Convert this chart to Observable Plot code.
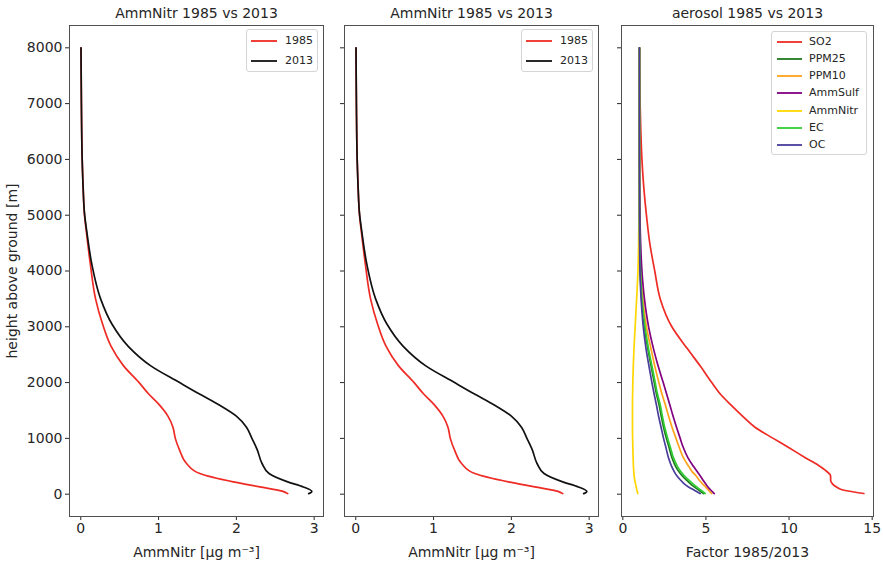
<!DOCTYPE html>
<html><head><meta charset="utf-8">
<script src="https://cdn.jsdelivr.net/npm/d3@7"></script>
<script src="https://cdn.jsdelivr.net/npm/@observablehq/plot@0.6"></script>
<style>
body{margin:0;background:#fff;font-family:"DejaVu Sans",sans-serif;}
#wrap{position:relative;width:883px;height:562px;overflow:hidden;}
#wrap svg.pl{position:absolute;top:0;}
.legend{position:absolute;border:1px solid #d4d4d4;border-radius:3px;background:rgba(255,255,255,0.8);font-size:11px;color:#262626;box-sizing:border-box;}
.legend .row{position:absolute;left:0;height:16px;line-height:16px;white-space:nowrap;}
.legend .row svg{position:absolute;top:0;}
.legend .row span{position:absolute;top:0;}
</style></head><body><div id="wrap"></div>
<script>
// ---- panel 1 & 2: AmmNitr profiles ----
const heights = [10, 50, 130, 220, 370, 550, 790, 1000, 1200, 1400, 1600, 1800, 2000, 2300, 2650, 3050, 3500, 4100, 4700, 5000, 5500, 6000, 7000, 8000];
const amm1985 = [2.66, 2.60, 2.30, 1.96, 1.53, 1.36, 1.27, 1.215, 1.185, 1.12, 1.01, 0.87, 0.75, 0.55, 0.39, 0.28, 0.19, 0.125, 0.072, 0.048, 0.03, 0.018, 0.008, 0.003];
const amm2013 = [2.93, 2.97, 2.86, 2.66, 2.42, 2.33, 2.27, 2.20, 2.13, 2.00, 1.78, 1.52, 1.27, 0.90, 0.61, 0.40, 0.255, 0.145, 0.078, 0.05, 0.03, 0.018, 0.008, 0.003];
const years = ["1985", "2013"];
const yearColors = ["#ee2b24", "#111111"];

// ---- panel 3: factor 1985/2013 ----
const fHeights = [12, 70, 130, 190, 250, 330, 400, 490, 650, 850, 1000, 1200, 1400, 1600, 1800, 2000, 2300, 2600, 3000, 3500, 4000, 4500, 5000, 5500, 6000, 7000, 8000];
const so2 = [14.5, 13.3, 12.85, 12.6, 12.5, 12.5, 12.3, 11.9, 11.0, 9.9, 9.05, 7.95, 7.2, 6.5, 5.85, 5.35, 4.65, 3.9, 2.95, 2.25, 1.92, 1.62, 1.42, 1.26, 1.15, 1.04, 1.0];
const ppm25 = [4.85, 4.58, 4.3, 4.05, 3.83, 3.57, 3.38, 3.19, 2.96, 2.77, 2.62, 2.45, 2.31, 2.18, 2.02, 1.89, 1.7, 1.51, 1.3, 1.13, 1.05, 1.02, 1.0, 1.0, 1.0, 1.0, 1.0];
const ppm10 = [5.35, 5.15, 4.98, 4.78, 4.6, 4.4, 4.18, 3.98, 3.65, 3.38, 3.2, 2.96, 2.75, 2.56, 2.35, 2.17, 1.92, 1.7, 1.42, 1.2, 1.08, 1.03, 1.01, 1.0, 1.0, 1.0, 1.0];
const ammSulf = [5.5, 5.3, 5.12, 4.97, 4.83, 4.65, 4.48, 4.27, 3.92, 3.62, 3.45, 3.23, 3.02, 2.83, 2.63, 2.43, 2.12, 1.85, 1.55, 1.3, 1.15, 1.07, 1.03, 1.01, 1.0, 1.0, 1.0];
const ammNitr = [0.9, 0.85, 0.8, 0.76, 0.72, 0.68, 0.66, 0.64, 0.62, 0.6, 0.59, 0.58, 0.58, 0.58, 0.59, 0.6, 0.63, 0.67, 0.74, 0.83, 0.91, 0.95, 0.97, 0.99, 1.0, 1.0, 1.0];
const ec = [4.95, 4.7, 4.45, 4.2, 3.98, 3.7, 3.5, 3.3, 3.05, 2.85, 2.7, 2.52, 2.38, 2.25, 2.08, 1.95, 1.75, 1.55, 1.33, 1.15, 1.06, 1.02, 1.0, 1.0, 1.0, 1.0, 1.0];
const oc = [4.65, 4.3, 3.95, 3.68, 3.48, 3.25, 3.1, 2.95, 2.75, 2.58, 2.45, 2.3, 2.15, 2.02, 1.88, 1.75, 1.57, 1.4, 1.23, 1.1, 1.03, 1.01, 1.0, 1.0, 1.0, 1.0, 1.0];
const species = ["SO2", "PPM25", "PPM10", "AmmSulf", "AmmNitr", "EC", "OC"];
const speciesColors = ["#ee2b24", "#1f7a1f", "#ffa31a", "#800080", "#ffd700", "#32cd32", "#483d9b"];
const speciesValues = [so2, ppm25, ppm10, ammSulf, ammNitr, ec, oc];

// ---- ticks / labels ----
const yTicks = [0, 1000, 2000, 3000, 4000, 5000, 6000, 7000, 8000];
const ammTicks = [0, 1, 2, 3];
const factorTicks = [0, 5, 10, 15];
const titles = ["AmmNitr 1985 vs 2013", "AmmNitr 1985 vs 2013", "aerosol 1985 vs 2013"];
const xLabels = ["AmmNitr [\u03bcg m\u207b\u00b3]", "AmmNitr [\u03bcg m\u207b\u00b3]", "Factor 1985/2013"];
const yLabel = "height above ground [m]";

const ammTable = years.map((y, k) => heights.map((h, i) => ({series: y, h, v: (k === 0 ? amm1985 : amm2013)[i]})));
const factorTable = species.map((s, k) => fHeights.map((h, i) => ({series: s, h, v: speciesValues[k][i]})));

const wrap = document.getElementById("wrap");

function panel({left, width, ml, mr, xDomain, xTicks, xLabel, title, showY, tables, colors}) {
  const svg = Plot.plot({
    width, height: 562,
    marginLeft: ml, marginRight: mr, marginTop: 25, marginBottom: 46,
    style: {fontFamily: "DejaVu Sans, sans-serif", fontSize: "14px", color: "#262626", background: "transparent", overflow: "visible"},
    x: {domain: xDomain, ticks: xTicks, tickSize: 4, tickPadding: 3, label: xLabel, labelArrow: "none", labelAnchor: "center", labelOffset: 40, tickFormat: d3.format("d")},
    y: {domain: [-400, 8400], ticks: yTicks, tickSize: 4, tickPadding: 3,
        label: showY ? yLabel : null, labelArrow: "none", labelAnchor: "center", labelOffset: 62,
        tickFormat: showY ? d3.format("d") : () => ""},
    marks: [
      ...tables.map((t, k) => Plot.line(t, {x: "v", y: "h", stroke: colors[k], strokeWidth: 1.7, curve: "monotone-y"})),
      Plot.frame({stroke: "#505050", strokeWidth: 1}),
      Plot.text([title], {frameAnchor: "top", dy: -12, fontSize: 14, lineAnchor: "middle", fill: "#262626"})
    ]
  });
  svg.classList.add("pl");
  svg.style.left = left + "px";
  wrap.appendChild(svg);
}

function legend({left, top, w, h, labels, colors, y0, step, lx0, lx1, tx}) {
  const box = document.createElement("div");
  box.className = "legend";
  Object.assign(box.style, {left: left + "px", top: top + "px", width: w + "px", height: h + "px"});
  labels.forEach((lab, i) => {
    const row = document.createElement("div");
    row.className = "row";
    row.style.top = (y0 + i * step - 8) + "px";
    row.style.width = (w - 2) + "px";
    const s = d3.create("svg").attr("width", lx1 - lx0).attr("height", 16).style("left", lx0 + "px");
    s.append("line").attr("x1", 0).attr("x2", lx1 - lx0).attr("y1", 8).attr("y2", 8).attr("stroke", colors[i]).attr("stroke-width", 1.8);
    row.appendChild(s.node());
    const sp = document.createElement("span");
    sp.textContent = lab;
    sp.style.left = tx + "px";
    row.appendChild(sp);
    box.appendChild(row);
  });
  wrap.appendChild(box);
}

panel({left: 0, width: 330, ml: 69, mr: 7, xDomain: [-0.145, 3.12], xTicks: ammTicks, xLabel: xLabels[0], title: titles[0], showY: true, tables: ammTable, colors: yearColors});
panel({left: 330, width: 275, ml: 14, mr: 7, xDomain: [-0.145, 3.12], xTicks: ammTicks, xLabel: xLabels[1], title: titles[1], showY: false, tables: ammTable, colors: yearColors});
panel({left: 605, width: 278, ml: 16, mr: 10, xDomain: [-0.08, 15.08], xTicks: factorTicks, xLabel: xLabels[2], title: titles[2], showY: false, tables: factorTable, colors: speciesColors});

legend({left: 246, top: 29, w: 72, h: 43, labels: years, colors: yearColors, y0: 10.5, step: 20.6, lx0: 4, lx1: 30, tx: 38});
legend({left: 521, top: 29, w: 72, h: 43, labels: years, colors: yearColors, y0: 10.5, step: 20.6, lx0: 4, lx1: 30, tx: 38});
legend({left: 771, top: 31, w: 96, h: 124, labels: species, colors: speciesColors, y0: 9.7, step: 17.25, lx0: 5, lx1: 30, tx: 37});
</script></body></html>
